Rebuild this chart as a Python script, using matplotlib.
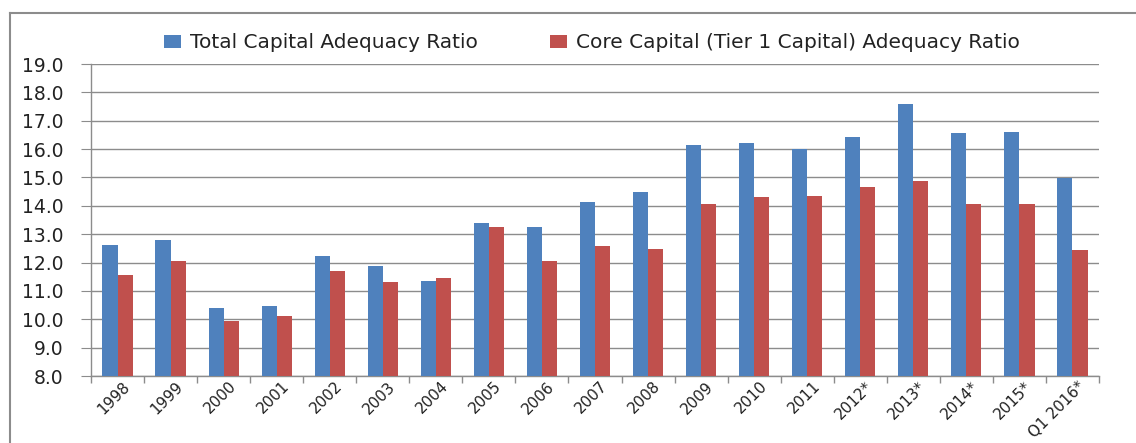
import numpy as np
import matplotlib
matplotlib.use('Agg')
from matplotlib import pyplot as plt
from matplotlib.lines import Line2D
from matplotlib.transforms import ScaledTranslation

# values
years = ['1998', '1999', '2000', '2001', '2002', '2003', '2004', '2005', '2006', '2007',
         '2008', '2009', '2010', '2011', '2012*', '2013*', '2014*', '2015*', 'Q1 2016*']
total_car = [12.63, 12.78, 10.40, 10.48, 12.24, 11.87, 11.36, 13.41, 13.24, 14.12,
             14.47, 16.15, 16.21, 15.99, 16.43, 17.60, 16.57, 16.59, 14.99]
core_car = [11.57, 12.04, 9.95, 10.11, 11.71, 11.32, 11.44, 13.24, 12.07, 12.57,
            12.46, 14.08, 14.30, 14.36, 14.66, 14.89, 14.08, 14.08, 12.43]
series_names = ['Total Capital Adequacy Ratio', 'Core Capital (Tier 1 Capital) Adequacy Ratio']

BLUE = '#4F81BD'
RED = '#C0504D'
GRID = '#8C8C8C'
TXT = '#222222'

plt.rcParams['font.family'] = ['DejaVu Sans']

fig = plt.figure(figsize=(11.36, 4.43), dpi=100)
ax = fig.add_axes([91 / 1136, 1 - 376 / 443, (1099 - 91) / 1136, (376 - 64) / 443])

x = np.arange(len(years))
w = 0.285
ax.bar(x - w / 2, total_car, width=w, color=BLUE, label=series_names[0], zorder=3)
ax.bar(x + w / 2, core_car, width=w, color=RED, label=series_names[1], zorder=3)

ax.set_ylim(8, 19)
ax.set_xlim(-0.5, len(years) - 0.5)
ax.set_yticks(np.arange(8, 20, 1))
ax.set_yticklabels(['%.1f' % v for v in np.arange(8, 20, 1)], fontsize=13.5, color=TXT)
ax.yaxis.grid(True, color=GRID, linewidth=1.0, zorder=0)
ax.tick_params(axis='y', length=7, color=GRID, pad=13)

# labels at category centres, tick marks at category boundaries
ax.set_xticks(x)
ax.set_xticklabels(years, rotation=45, ha='right', va='top', rotation_mode='anchor',
                   fontsize=11, color=TXT)
ax.tick_params(axis='x', which='major', length=0, pad=2)
shift = ScaledTranslation(5 / 100, 0, fig.dpi_scale_trans)
for lab in ax.get_xticklabels():
    lab.set_transform(lab.get_transform() + shift)
ax.set_xticks(np.arange(-0.5, len(years), 1), minor=True)
ax.tick_params(axis='x', which='minor', length=5, color=GRID, width=1.0)

for s in ['top', 'right']:
    ax.spines[s].set_visible(False)
for s in ['left', 'bottom']:
    ax.spines[s].set_color(GRID)
    ax.spines[s].set_linewidth(1.0)

leg = fig.legend(loc='center', bbox_to_anchor=(0.521, 1 - 43 / 443), ncol=2, frameon=False,
                 fontsize=14.5, handlelength=0.85, handleheight=0.6, handletextpad=0.45,
                 columnspacing=3.6)
for t in leg.get_texts():
    t.set_color(TXT)

# outer chart frame
fig.add_artist(Line2D([10 / 1136, 10 / 1136], [0, 1 - 13 / 443], transform=fig.transFigure,
                      color='#8C8C8C', linewidth=1.5))
fig.add_artist(Line2D([10 / 1136, 1], [1 - 13 / 443, 1 - 13 / 443], transform=fig.transFigure,
                      color='#8C8C8C', linewidth=1.5))

fig.savefig('out.png', dpi=100)
